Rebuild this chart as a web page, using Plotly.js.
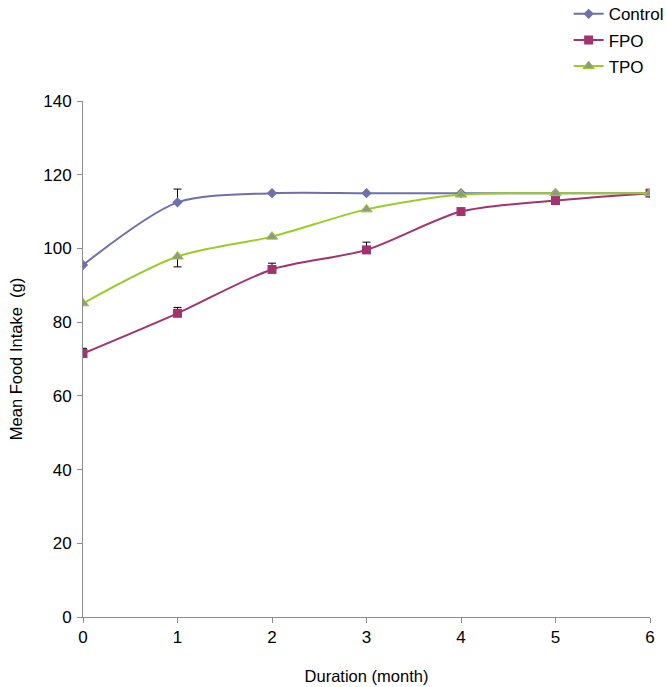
<!DOCTYPE html>
<html>
<head>
<meta charset="utf-8">
<script src="https://cdn.plot.ly/plotly-3.0.1.min.js"></script>
<style>html,body{margin:0;padding:0;background:#fff;}#chart{width:666px;height:687px;}</style>
</head>
<body>
<div id="chart"></div>
<script>
var months = [0, 1, 2, 3, 4, 5, 6];
var controlValues = [95.5, 112.5, 115, 115, 115, 115, 115];
var fpoValues = [71.5, 82.4, 94.3, 99.6, 110, 113, 115];
var tpoValues = [85.1, 97.8, 103.2, 110.6, 114.6, 115, 115];
var controlErrPlus = [0, 3.6, 0, 0, 0, 0, 0];
var fpoErrPlus = [1.4, 1.6, 1.7, 2.1, 0, 0, 0];
var tpoErrMinus = [0, 2.8, 0, 0, 0, 0, 0];
var xTicks = [0, 1, 2, 3, 4, 5, 6];
var yTicks = [0, 20, 40, 60, 80, 100, 120, 140];

var zeros = months.map(function(){return 0;});
var errStyle = {color: '#000000', thickness: 1, width: 4};

var traces = [
  {
    name: 'Control', x: months, y: controlValues, mode: 'lines+markers', legendgroup: 'a',
    line: {color: '#6E70AC', width: 2, shape: 'spline', smoothing: 0.8},
    marker: {symbol: 'diamond', size: 8, color: '#6E70AC'},
    error_y: Object.assign({type: 'data', symmetric: false, array: controlErrPlus, arrayminus: zeros}, errStyle)
  },
  {
    name: 'FPO', x: months, y: fpoValues, mode: 'lines+markers', legendgroup: 'b',
    line: {color: '#A3336E', width: 2, shape: 'spline', smoothing: 0.8},
    marker: {symbol: 'square', size: 9, color: '#A3336E'},
    error_y: Object.assign({type: 'data', symmetric: false, array: fpoErrPlus, arrayminus: zeros}, errStyle)
  },
  {
    name: 'TPO', x: months, y: tpoValues, mode: 'lines+markers', legendgroup: 'c',
    line: {color: '#9ACD2A', width: 2, shape: 'spline', smoothing: 0.8},
    marker: {symbol: 'triangle-up', size: 10, color: '#8E9A82', line: {color: '#9ACD2A', width: 1}},
    error_y: Object.assign({type: 'data', symmetric: false, array: zeros, arrayminus: tpoErrMinus}, errStyle)
  }
];

var axisCommon = {
  showgrid: false, zeroline: false, showline: true, linecolor: '#8C8C8C', linewidth: 1,
  ticks: 'outside', ticklen: 5, tickcolor: '#8C8C8C',
  tickfont: {family: 'Liberation Sans, Arial, sans-serif', size: 17, color: '#000'}
};

var layout = {
  width: 666, height: 687,
  margin: {l: 83, r: 0, t: 0, b: 70, autoexpand: false},
  paper_bgcolor: '#fff', plot_bgcolor: '#fff',
  font: {family: 'Liberation Sans, Arial, sans-serif', size: 15, color: '#000'},
  showlegend: true,
  legend: {x: 0.833, y: 1.006, xanchor: 'left', yanchor: 'top', traceorder: 'grouped', tracegroupgap: 1,
           font: {size: 17, color: '#000'}, bgcolor: 'rgba(0,0,0,0)'},
  xaxis: Object.assign({}, axisCommon, {range: [0, 6], domain: [0, 567 / 583], tickvals: xTicks, ticktext: xTicks.map(String),
    title: {text: 'Duration (month)', font: {size: 16.5}, standoff: 24}}),
  yaxis: Object.assign({}, axisCommon, {range: [0, 140], domain: [0, 516 / 617], tickvals: yTicks, ticktext: yTicks.map(String),
    ticklabelstandoff: 2,
    title: {text: 'Mean Food Intake  (g)', font: {size: 16.5}, standoff: 16}})
};

Plotly.newPlot('chart', traces, layout, {displayModeBar: false, staticPlot: true});
</script>
</body>
</html>
